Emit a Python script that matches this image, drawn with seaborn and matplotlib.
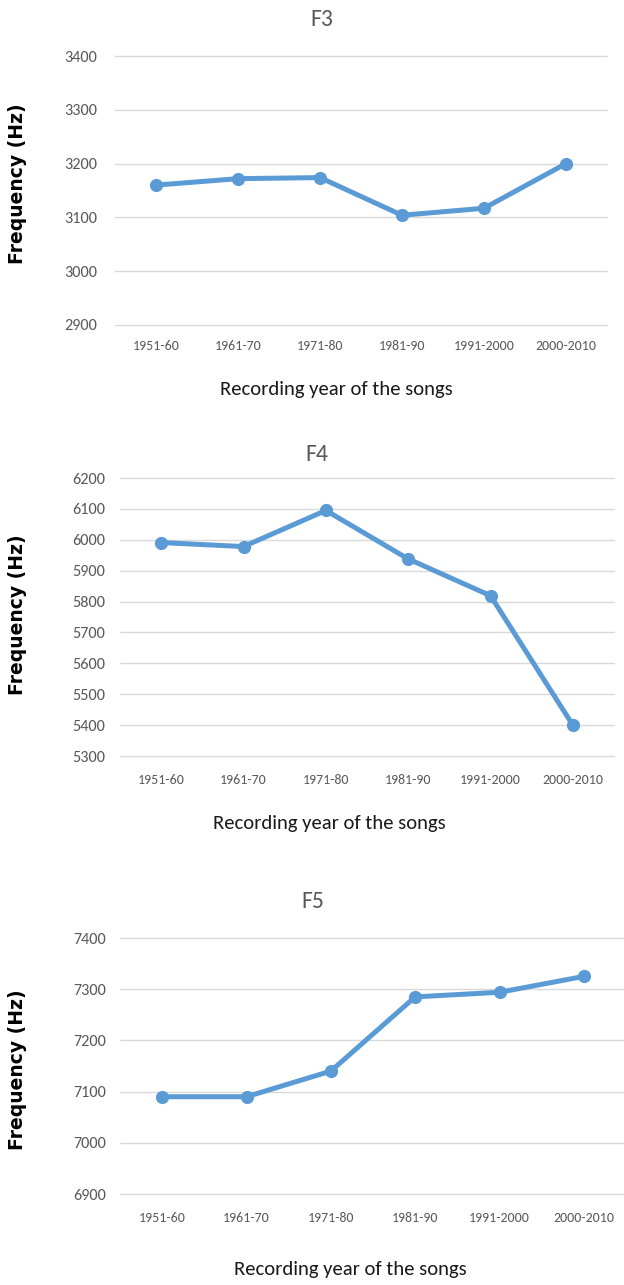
import matplotlib
matplotlib.use("Agg")
import matplotlib.pyplot as plt
import seaborn as sns
import pandas as pd

categories = ["1951-60", "1961-70", "1971-80", "1981-90", "1991-2000", "2000-2010"]
f3_values = [3160, 3172, 3174, 3104, 3117, 3200]
f4_values = [5991, 5978, 6095, 5938, 5819, 5400]
f5_values = [7090, 7090, 7140, 7285, 7294, 7325]

titles = ["F3", "F4", "F5"]
y_ticks = [
    [2900, 3000, 3100, 3200, 3300, 3400],
    [5300, 5400, 5500, 5600, 5700, 5800, 5900, 6000, 6100, 6200],
    [6900, 7000, 7100, 7200, 7300, 7400],
]
y_label = "Frequency (Hz)"
x_label = "Recording year of the songs"

sns.set_style("white")
plt.rcParams["font.family"] = ["Carlito", "DejaVu Sans"]

W, H = 624, 1285
fig = plt.figure(figsize=(W / 100, H / 100), dpi=100)

# axes boxes in pixels: left, top, right, bottom
boxes = [(115, 56, 607, 325), (120, 478, 614, 756), (120, 938, 626, 1194)]
title_pos = [(322, 20), (317, 454), (313, 902)]
xlabel_pos = [(336, 389), (329, 824), (350, 1269)]
ylabel_pos = [(18, 184), (18, 615), (18, 1070)]
xtick_pad = [11, 13.3, 12.6]
ytick_pad = [13, 10.8, 10]

blue = "#5B9BD5"
grid_c = "#D9D9D9"
gray_txt = "#595959"

series = [f3_values, f4_values, f5_values]
for i, vals in enumerate(series):
    l, t, r, b = boxes[i]
    ax = fig.add_axes([l / W, 1 - b / H, (r - l) / W, (b - t) / H])
    df = pd.DataFrame({"period": categories, "freq": vals})
    sns.lineplot(data=df, x="period", y="freq", ax=ax, color=blue, linewidth=3.6,
                 marker="o", markersize=9.5, markeredgewidth=0, sort=False)
    ax.set_xlim(-0.5, len(categories) - 0.5)
    ax.set_ylim(y_ticks[i][0], y_ticks[i][-1])
    ax.set_yticks(y_ticks[i])
    ax.set_yticklabels([str(v) for v in y_ticks[i]])
    ax.yaxis.grid(True, color=grid_c, linewidth=1.0)
    for gl in ax.get_ygridlines():
        gl.set_clip_on(False)
    ax.xaxis.grid(False)
    ax.set_axisbelow(True)
    for s in ax.spines.values():
        s.set_visible(False)
    ax.tick_params(axis="x", length=0, pad=xtick_pad[i], labelsize=10, labelcolor=gray_txt)
    ax.tick_params(axis="y", length=0, pad=ytick_pad[i], labelsize=11.7, labelcolor=gray_txt)
    ax.set_xlabel("")
    ax.set_ylabel("")
    ax.patch.set_alpha(0)
    tx, ty = title_pos[i]
    fig.text(tx / W, 1 - ty / H, titles[i], ha="center", va="center",
             fontsize=17, color=gray_txt)
    xx, xy = xlabel_pos[i]
    fig.text(xx / W, 1 - xy / H, x_label, ha="center", va="center",
             fontsize=14.9, color="#1a1a1a")
    yx, yy = ylabel_pos[i]
    fig.text(yx / W, 1 - yy / H, y_label, ha="center", va="center", rotation=90,
             fontsize=13.5, fontweight="bold", color="black",
             family=["DejaVu Sans"])

fig.savefig("out.png", dpi=100)
